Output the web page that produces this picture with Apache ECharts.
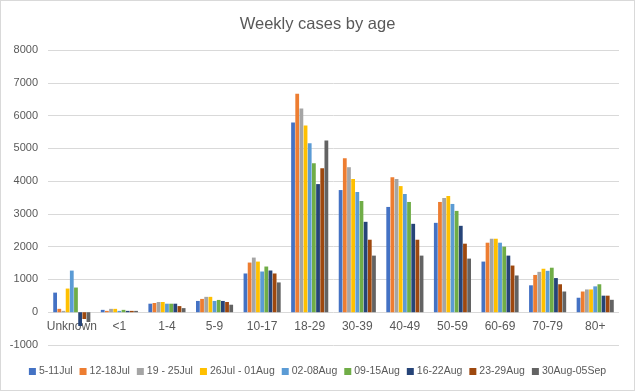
<!DOCTYPE html>
<html>
<head>
<meta charset="utf-8">
<script src="https://cdn.jsdelivr.net/npm/echarts@6/dist/echarts.min.js"></script>
<style>
html,body{margin:0;padding:0;background:#fff;}
#c{width:633px;height:389px;border:1px solid #d9d9d9;}
</style>
</head>
<body>
<div id="c"></div>
<script>
const categories = ['Unknown','<1','1-4','5-9','10-17','18-29','30-39','40-49','50-59','60-69','70-79','80+'];
const weeks = ['5-11Jul','12-18Jul','19 - 25Jul','26Jul - 01Aug','02-08Aug','09-15Aug','16-22Aug','23-29Aug','30Aug-05Sep'];
const w1 = [598, 72, 260, 344, 1182, 5788, 3727, 3212, 2727, 1545, 821, 442];
const w2 = [103, 41, 281, 406, 1515, 6667, 4697, 4121, 3364, 2121, 1137, 632];
const w3 = [41, 103, 312, 469, 1667, 6212, 4424, 4061, 3485, 2242, 1232, 695];
const w4 = [722, 103, 312, 469, 1545, 5697, 4061, 3848, 3545, 2242, 1326, 695];
const w5 = [1270, 41, 260, 344, 1242, 5152, 3667, 3606, 3303, 2121, 1263, 789];
const w6 = [753, 72, 260, 375, 1394, 4545, 3394, 3364, 3091, 2000, 1358, 853];
const w7 = [-420, 41, 260, 344, 1273, 3909, 2758, 2697, 2636, 1727, 1042, 505];
const w8 = [-206, 41, 187, 312, 1182, 4394, 2212, 2212, 2091, 1424, 853, 505];
const w9 = [-299, 41, 125, 229, 909, 5242, 1727, 1727, 1636, 1121, 632, 379];
const seriesData = [w1,w2,w3,w4,w5,w6,w7,w8,w9];
const colors = ['#4472C4','#ED7D31','#A5A5A5','#FFC000','#5B9BD5','#70AD47','#264478','#9E480E','#636363'];
const font = '"Liberation Sans", Arial, sans-serif';
const chart = echarts.init(document.getElementById('c'));
chart.setOption({
  animation:false,
  color: colors,
  title:{text:'Weekly cases by age',left:'center',top:10,textStyle:{color:'#595959',fontSize:16.5,fontWeight:'normal',fontFamily:font}},
  grid:{left:47,right:15,top:49,bottom:45},
  legend:{bottom:8,left:'center',width:620,itemWidth:7,itemHeight:7,itemGap:7,icon:'rect',
    textStyle:{color:'#595959',fontSize:10.5,fontFamily:font,padding:[0,0,0,-2]},data:weeks},
  xAxis:{type:'category',data:categories,offset:-33,axisLine:{show:false,onZero:false},axisTick:{show:false},
    axisLabel:{color:'#595959',fontSize:12,fontFamily:font,margin:9,interval:0}},
  yAxis:{type:'value',min:-1000,max:8000,interval:1000,axisLine:{show:false},axisTick:{show:false},
    splitLine:{lineStyle:{color:'#d9d9d9'}},
    axisLabel:{color:'#595959',fontSize:11,fontFamily:font,margin:10,formatter:v=>String(v)}},
  series: seriesData.map((d,i)=>({name:weeks[i],type:'bar',data:d,barGap:'10%',barCategoryGap:'22%'}))
});
</script>
</body>
</html>
